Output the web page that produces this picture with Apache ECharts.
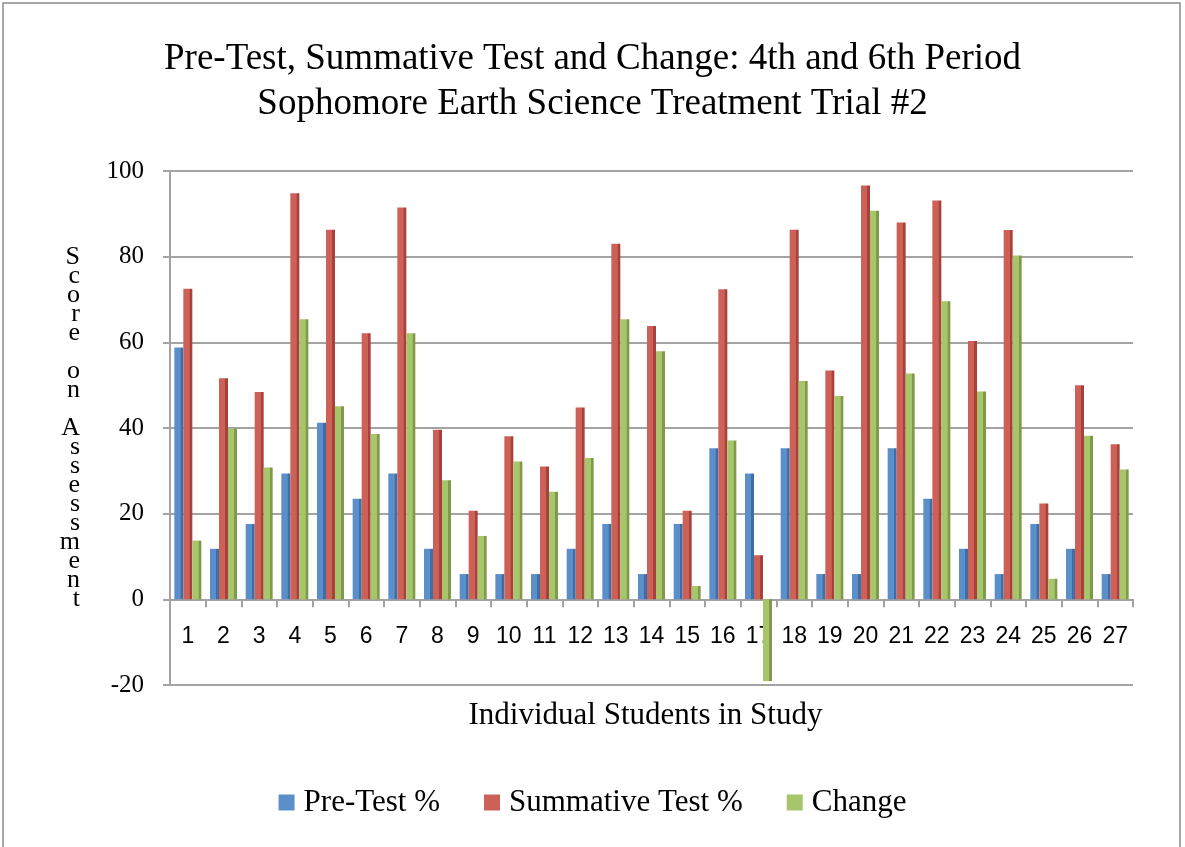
<!DOCTYPE html>
<html>
<head>
<meta charset="utf-8">
<script src="https://cdn.jsdelivr.net/npm/echarts@6/dist/echarts.min.js"></script>
<style>
  html, body { margin: 0; padding: 0; background: #fff; }
  #main { width: 1185px; height: 847px; }
</style>
</head>
<body>
<div id="main"></div>
<script>
// students 1..27
var students = ['1','2','3','4','5','6','7','8','9','10','11','12','13','14','15','16','17','18','19','20','21','22','23','24','25','26','27'];
var preTest = [58.8, 11.8, 17.6, 29.4, 41.2, 23.5, 29.4, 11.8, 5.9, 5.9, 5.9, 11.8, 17.6, 5.9, 17.6, 35.3, 29.4, 35.3, 5.9, 5.9, 35.3, 23.5, 11.8, 5.9, 17.6, 11.8, 5.9];
var summative = [72.5, 51.6, 48.4, 94.8, 86.3, 62.1, 91.5, 39.6, 20.7, 38.1, 31.0, 44.8, 83.0, 63.8, 20.7, 72.4, 10.3, 86.3, 53.4, 96.6, 88.0, 93.1, 60.3, 86.2, 22.4, 50.0, 36.2];
var change = [13.7, 39.8, 30.8, 65.4, 45.1, 38.6, 62.1, 27.8, 14.8, 32.2, 25.1, 33.0, 65.4, 57.9, 3.1, 37.1, -19.1, 51.0, 47.5, 90.7, 52.7, 69.6, 48.5, 80.3, 4.8, 38.2, 30.3];
var yTicks = [-20, 0, 20, 40, 60, 80, 100];

var serif = '"Liberation Serif", "DejaVu Serif", serif';
var narrow = '"Liberation Sans Narrow", "Liberation Sans", sans-serif';
var gridGray = '#a3a3a3';
var blue = '#5a8fca', red = '#cd6057', green = '#a7c56b';

// fake 3d side face: lighter front, darker right strip
function face(main, side) {
    return new echarts.graphic.LinearGradient(0, 0, 1, 0, [
        {offset: 0, color: main},
        {offset: 0.68, color: main},
        {offset: 0.7, color: side},
        {offset: 1, color: side}
    ]);
}

var chartDom = document.getElementById('main');
var myChart = echarts.init(chartDom);

var option = {
    animation: false,
    color: [blue, red, green],
    title: {
        text: 'Pre-Test, Summative Test and Change: 4th and 6th Period\nSophomore Earth Science Treatment Trial #2',
        left: 'center',
        top: 32,
        textStyle: {
            fontFamily: serif,
            fontSize: 37,
            fontWeight: 'normal',
            color: '#000',
            lineHeight: 45
        }
    },
    legend: {
        data: [
            {name: 'Pre-Test %', itemStyle: {color: blue}},
            {name: 'Summative Test %', itemStyle: {color: red}},
            {name: 'Change', itemStyle: {color: green}}
        ],
        left: 'center',
        top: 782,
        icon: 'rect',
        itemWidth: 16,
        itemHeight: 16,
        itemGap: 44,
        textStyle: {fontFamily: serif, fontSize: 31, color: '#000', padding: [0, 0, 0, 4]}
    },
    grid: {left: 170, right: 52, top: 171, bottom: 162},
    graphic: [{
        type: 'rect',
        shape: {x: 3, y: 3, width: 1177, height: 870},
        style: {fill: 'none', stroke: '#8a8a8a', lineWidth: 1.5},
        silent: true
    }],
    xAxis: [
        {
            // axis line + ticks sitting on zero
            type: 'category',
            data: students,
            axisLine: {onZero: true, lineStyle: {color: gridGray, width: 2}},
            axisTick: {show: true, length: 8, lineStyle: {color: gridGray, width: 2}},
            axisLabel: {show: false}
        },
        {
            // labels and name, hung from the bottom (-20) edge
            type: 'category',
            data: students,
            position: 'bottom',
            axisLine: {show: false, onZero: false},
            axisTick: {show: false},
            axisLabel: {inside: true, margin: 37, fontFamily: narrow, fontSize: 23, color: '#000'},
            name: 'Individual Students in Study',
            nameLocation: 'middle',
            nameGap: 15,
            nameTextStyle: {fontFamily: serif, fontSize: 31, color: '#000', verticalAlign: 'top', padding: [0, 12, 0, 0]}
        }
    ],
    yAxis: {
        type: 'value',
        min: yTicks[0],
        max: yTicks[yTicks.length - 1],
        interval: 20,
        name: 'Score on Assessment'.split('').join('\n'),
        nameLocation: 'middle',
        nameRotate: 0,
        nameGap: 90,
        nameTextStyle: {fontFamily: serif, fontSize: 26, color: '#000', lineHeight: 19},
        axisLine: {show: true, lineStyle: {color: gridGray, width: 2}},
        axisTick: {show: true, length: 7, lineStyle: {color: gridGray, width: 2}},
        axisLabel: {margin: 26, fontFamily: serif, fontSize: 25, color: '#000'},
        splitLine: {lineStyle: {color: gridGray, width: 2}}
    },
    series: [
        {
            name: 'Pre-Test %',
            type: 'bar',
            data: preTest,
            barWidth: 9,
            barGap: '0%',
            itemStyle: {color: face(blue, '#3f6ea6')}
        },
        {
            name: 'Summative Test %',
            type: 'bar',
            data: summative,
            barWidth: 9,
            barGap: '0%',
            itemStyle: {color: face(red, '#a8413b')}
        },
        {
            name: 'Change',
            type: 'bar',
            data: change,
            barWidth: 9,
            barGap: '0%',
            itemStyle: {color: face(green, '#7f9a48')}
        }
    ]
};

option && myChart.setOption(option);
</script>
</body>
</html>
